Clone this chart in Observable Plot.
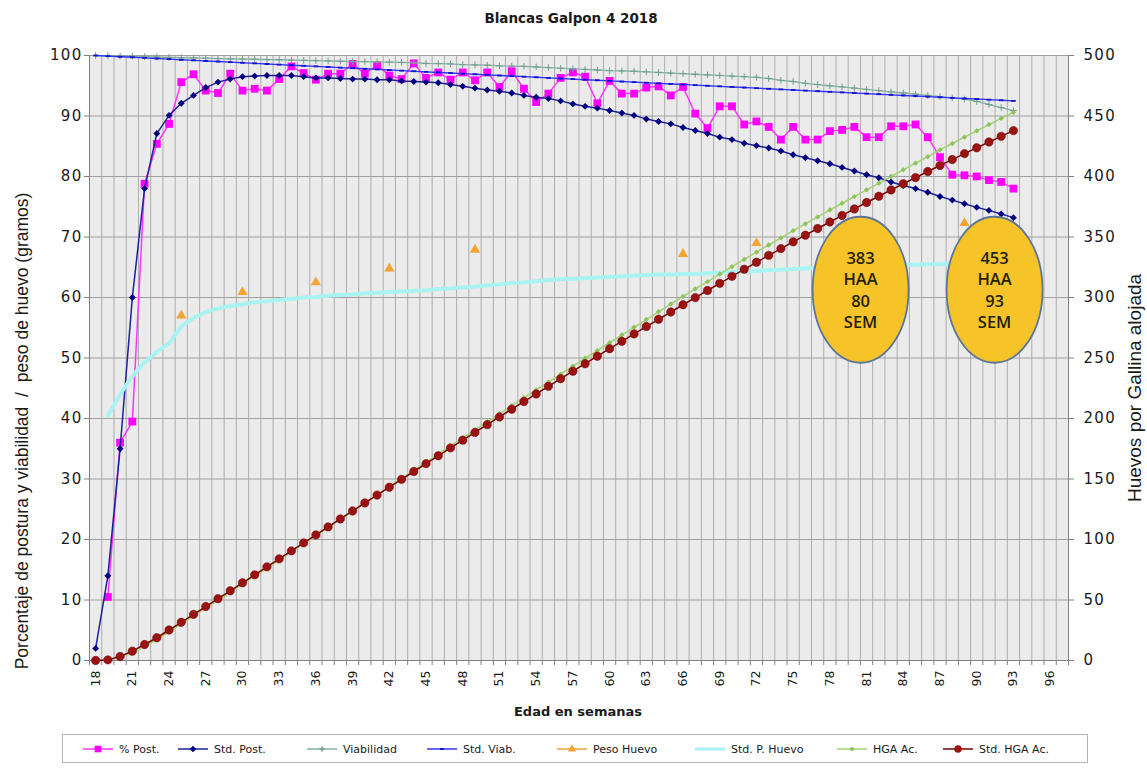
<!DOCTYPE html>
<html>
<head>
<meta charset="utf-8">
<script src="https://cdn.jsdelivr.net/npm/d3@7"></script>
<script src="https://cdn.jsdelivr.net/npm/@observablehq/plot@0.6"></script>
<style>
  body { margin: 0; background: #ffffff; }
  #wrap { position: relative; width: 1147px; height: 771px; overflow: hidden; }
  #chart { position: absolute; left: 0; top: 0; }
  #title { position: absolute; left: 0; top: 10px; width: 1142px; text-align: center;
           font-family: "DejaVu Sans", sans-serif; font-weight: bold; font-size: 13.5px; color: #1a1a1a; }
  #legend { position: absolute; left: 0; top: 720px; }
</style>
</head>
<body>
<div id="wrap">
  <div id="chart"></div>
  <div id="title">Blancas Galpon 4 2018</div>
  <svg id="legend" width="1147" height="51"></svg>
</div>
<script>
// ---------------- data ----------------
const weeks = [18,19,20,21,22,23,24,25,26,27,28,29,30,31,32,33,34,35,36,37,38,39,40,41,42,43,44,45,46,47,48,49,50,51,52,53,54,55,56,57,58,59,60,61,62,63,64,65,66,67,68,69,70,71,72,73,74,75,76,77,78,79,80,81,82,83,84,85,86,87,88,89,90,91,92,93];

// % Post. (left axis)
const pctPost = [null,10.5,36,39.5,78.8,85.4,88.7,95.6,96.9,94.2,93.8,97.0,94.2,94.5,94.2,96.1,98.2,97.1,96.0,97.0,97.0,98.6,97.0,98.4,96.7,96.1,98.7,96.3,97.2,96.0,97.2,95.9,97.2,94.8,97.4,94.5,92.3,93.7,96.3,97.2,96.5,92.1,95.8,93.7,93.7,94.7,94.9,93.4,94.8,90.4,88.0,91.6,91.6,88.6,89.1,88.2,86.1,88.2,86.1,86.1,87.5,87.7,88.2,86.5,86.5,88.3,88.3,88.6,86.5,83.2,80.3,80.2,80.0,79.4,79.1,78.0];

// Std. Post. (left axis)
const stdPost = [2,14,35,60,78,87.1,90.1,92.1,93.4,94.7,95.6,96.1,96.5,96.6,96.7,96.7,96.7,96.5,96.3,96.3,96.2,96.1,96.1,96.0,96.0,95.8,95.7,95.6,95.5,95.2,94.9,94.6,94.3,94.1,93.8,93.4,93.1,92.9,92.5,92.0,91.6,91.3,90.9,90.5,90.1,89.5,89.1,88.7,88.1,87.6,87.1,86.5,86.1,85.5,85.1,84.7,84.2,83.6,83.1,82.6,82.1,81.5,80.9,80.3,79.8,79.1,78.5,78.0,77.4,76.7,76.1,75.5,74.9,74.4,73.8,73.2];

// Viabilidad (left axis)
const viab = [100,99.95,99.9,99.85,99.8,99.75,99.7,99.65,99.6,99.55,99.5,99.45,99.4,99.38,99.33,99.3,99.25,99.2,99.15,99.1,99.05,99.0,99.0,98.95,98.9,98.85,98.8,98.7,98.65,98.6,98.5,98.45,98.4,98.3,98.25,98.2,98.1,98.0,97.9,97.8,97.7,97.6,97.5,97.45,97.4,97.3,97.2,97.1,97.0,96.9,96.8,96.7,96.6,96.5,96.4,96.2,95.9,95.7,95.4,95.2,95.0,94.8,94.6,94.4,94.2,94.0,93.8,93.6,93.4,93.2,93.0,92.8,92.4,91.9,91.4,90.9];

// Std. Viab. (left axis)
const stdViab = [100,99.9,99.8,99.7,99.6,99.5,99.4,99.3,99.2,99.1,99.0,98.9,98.8,98.7,98.6,98.5,98.4,98.3,98.2,98.1,98.0,97.9,97.8,97.7,97.6,97.5,97.4,97.3,97.2,97.1,97.0,96.9,96.8,96.7,96.6,96.5,96.4,96.3,96.2,96.1,96.0,95.9,95.8,95.7,95.6,95.5,95.4,95.3,95.2,95.1,95.0,94.9,94.8,94.7,94.6,94.5,94.4,94.3,94.2,94.1,94.0,93.9,93.8,93.7,93.6,93.5,93.4,93.3,93.2,93.1,93.0,92.9,92.8,92.7,92.6,92.5];

// Peso Huevo (left axis, grams) – sampled weeks only
const pesoWeeks = [25,30,36,42,49,66,72,89];
const pesoHuevo = [57.0,60.9,62.5,64.8,67.9,67.2,69.0,72.3];

// Std. P. Huevo (left axis, grams)
const stdPesoHuevo = [null,40.5,44.0,47.0,49.3,51.0,52.4,55.2,56.6,57.6,58.2,58.6,58.9,59.2,59.4,59.6,59.8,60.0,60.1,60.3,60.4,60.5,60.7,60.8,60.9,61.0,61.1,61.2,61.4,61.5,61.7,61.8,62.0,62.2,62.4,62.5,62.7,62.9,63.0,63.1,63.2,63.3,63.4,63.5,63.6,63.7,63.8,63.8,63.9,63.9,64.0,64.1,64.2,64.3,64.4,64.5,64.6,64.7,64.8,64.9,65.0,65.1,65.2,65.2,65.3,65.3,65.4,65.4,65.5,65.5,65.6,65.6,65.7,65.7,65.8,65.8];

// HGA Ac. (right axis, eggs per hen housed)
const hgaAc = [0,0.4,3.0,6.3,11.5,17.2,23.6,30.2,36.8,43.3,49.8,56.5,63.1,69.7,76.3,83.0,89.8,96.5,103.2,109.9,116.6,123.4,130.1,136.9,143.6,150.3,157.1,163.8,170.5,177.2,183.9,190.6,197.3,203.9,210.6,217.2,223.6,230.0,236.6,243.2,249.8,256.1,262.6,269.0,275.4,281.8,288.2,294.6,301.0,307.1,313.1,319.3,325.5,331.5,337.5,343.4,349.3,355.2,360.9,366.6,372.3,377.9,383.4,389.0,394.5,400.0,405.5,411.0,416.4,422.0,427.3,432.5,437.7,442.9,448.0,453.0];

// Std. HGA Ac. (right axis)
const stdHgaAc = [0,0.5,3.3,7.7,13.2,18.8,25.2,31.6,38.1,44.6,51.1,57.6,64.2,70.8,77.4,84.0,90.6,97.2,103.8,110.4,117.0,123.6,130.2,136.7,143.2,149.7,156.2,162.7,169.2,175.7,182.1,188.5,194.9,201.3,207.7,214.0,220.3,226.6,232.9,239.1,245.3,251.5,257.7,263.8,269.9,276.0,282.0,288.0,294.0,299.9,305.8,311.7,317.5,323.3,329.1,334.8,340.4,346.0,351.5,357.0,362.4,367.8,373.2,378.5,383.7,388.9,394.0,399.1,404.1,409.1,414.0,418.9,423.7,428.5,433.2,437.9];

// axis ticks
const xTickLabels = [18,21,24,27,30,33,36,39,42,45,48,51,54,57,60,63,66,69,72,75,78,81,84,87,90,93,96];
const leftTicks = [0,10,20,30,40,50,60,70,80,90,100];
const rightMax = 500;          // right axis 0..500 aligned with left 0..100
const xDomain = [17.5, 97.5];  // categories 18..97

// annotation bubbles
const bubbles = [
  {week: 80.55, value: 61.2, lines: ["383", "HAA", "80", "SEM"]},
  {week: 91.5,  value: 61.2, lines: ["453", "HAA", "93", "SEM"]}
];

// ---------------- build ----------------
const ratio = rightMax / 100;
const rows = weeks.map((w, i) => ({
  week: w, post: pctPost[i], stdPost: stdPost[i], viab: viab[i], stdViab: stdViab[i],
  stdPeso: stdPesoHuevo[i], hga: hgaAc[i], stdHga: stdHgaAc[i]
}));
const pesoRows = pesoWeeks.map((w, i) => ({week: w, peso: pesoHuevo[i]}));
const bounds = d3.range(xDomain[0], xDomain[1] + 0.01, 1);

const dashSymbol = {
  draw(ctx, size) {
    const w = Math.sqrt(size) * 1.1, h = 0.9;
    ctx.moveTo(-w / 2, -h); ctx.lineTo(w / 2, -h); ctx.lineTo(w / 2, h); ctx.lineTo(-w / 2, h); ctx.closePath();
  }
};

const C = {
  post: "#ff00ff", postLine: "#ff33ff",
  stdPost: "#000080", stdPostLine: "#1f1f99",
  viab: "#6f9f8e", viabLine: "#86b0a2",
  stdViab: "#1010d0", stdViabLine: "#3535f5",
  peso: "#f4a433",
  stdPeso: "#aaf3f3",
  hga: "#8cc45a", hgaLine: "#a3d070",
  stdHga: "#9b1212", stdHgaLine: "#7a0000"
};

const plot = Plot.plot({
  width: 1147, height: 720,
  marginTop: 55, marginBottom: 60, marginLeft: 89, marginRight: 79,
  style: {fontFamily: "DejaVu Sans, sans-serif", background: "transparent", overflow: "visible"},
  x: {domain: xDomain, axis: null},
  y: {domain: [0, 100], axis: null},
  marks: [
    Plot.frame({fill: "#ebebeb", stroke: null}),
    Plot.ruleX(bounds, {stroke: "#adadad", strokeWidth: 1}),
    Plot.ruleY(leftTicks, {stroke: "#a0a0a0", strokeWidth: 1}),
    Plot.ruleX([xDomain[0], xDomain[1]], {stroke: "#808080"}),
    Plot.ruleY([0], {stroke: "#808080"}),
    Plot.axisY(leftTicks, {anchor: "left", tickSize: 5, tickPadding: 2, fontSize: 15, fill: "#1a1a1a", stroke: "#808080", label: null}),
    Plot.axisY(leftTicks, {anchor: "right", tickSize: 5, tickPadding: 10, fontSize: 15, fill: "#1a1a1a", stroke: "#808080", label: null, tickFormat: d => d * ratio}),
    Plot.axisX(bounds, {anchor: "bottom", tickSize: 5, tickFormat: () => "", stroke: "#808080", label: null}),
    Plot.axisX(xTickLabels, {anchor: "bottom", tickSize: 0, tickPadding: 10, tickRotate: -90, fontSize: 12.5, fill: "#1a1a1a", label: null}),

    Plot.line(rows, {x: "week", y: "post", stroke: C.postLine, strokeWidth: 1.5}),
    Plot.dot(rows, {x: "week", y: "post", symbol: "square", r: 4.4, fill: C.post}),
    Plot.line(rows, {x: "week", y: "stdPost", stroke: C.stdPostLine, strokeWidth: 1.5}),
    Plot.dot(rows, {x: "week", y: "stdPost", symbol: "diamond2", r: 3.1, fill: C.stdPost}),
    Plot.line(rows, {x: "week", y: "viab", stroke: C.viabLine, strokeWidth: 1.3}),
    Plot.dot(rows, {x: "week", y: "viab", symbol: "plus", r: 2.3, stroke: C.viab, strokeWidth: 1}),
    Plot.line(rows, {x: "week", y: "stdViab", stroke: C.stdViabLine, strokeWidth: 1.4}),
    Plot.dot(rows, {x: "week", y: "stdViab", symbol: dashSymbol, r: 2.4, fill: C.stdViab}),
    Plot.dot(pesoRows, {x: "week", y: "peso", symbol: "triangle", r: 3.8, fill: C.peso}),
    Plot.line(rows, {x: "week", y: "stdPeso", stroke: C.stdPeso, strokeWidth: 4}),
    Plot.line(rows, {x: "week", y: d => d.hga / ratio, stroke: C.hgaLine, strokeWidth: 1.5}),
    Plot.dot(rows, {x: "week", y: d => d.hga / ratio, symbol: "diamond2", r: 2.4, fill: C.hga}),
    Plot.line(rows, {x: "week", y: d => d.stdHga / ratio, stroke: C.stdHgaLine, strokeWidth: 1.5}),
    Plot.dot(rows, {x: "week", y: d => d.stdHga / ratio, r: 4.2, fill: C.stdHga, stroke: "#6e0000", strokeWidth: 0.5})
  ]
});
document.getElementById("chart").appendChild(plot);

// widen y tick labels slightly like the reference
d3.select(plot).selectAll('g[aria-label="y-axis tick label"] text').style("letter-spacing", "1.3px");

// ---------------- annotations & axis titles ----------------
const svg = d3.select(plot);
const sx = plot.scale("x"), sy = plot.scale("y");
const ann = svg.append("g");
bubbles.forEach(b => {
  const cx = sx.apply(b.week), cy = sy.apply(b.value);
  ann.append("ellipse").attr("cx", cx).attr("cy", cy).attr("rx", 48).attr("ry", 73)
    .attr("fill", "#f6c428").attr("stroke", "#5b7597").attr("stroke-width", 1.8);
  b.lines.forEach((t, i) => ann.append("text")
    .attr("x", cx).attr("y", cy + (i - 1.5) * 21.5)
    .attr("text-anchor", "middle").attr("dominant-baseline", "central")
    .attr("font-family", "Open Sans, sans-serif").attr("font-weight", 600).attr("font-size", 16.5)
    .attr("fill", "#241f0c").text(t));
});

svg.append("text").attr("transform", "translate(22,431) rotate(-90)")
  .attr("text-anchor", "middle").attr("dominant-baseline", "central")
  .attr("font-family", "Liberation Sans, sans-serif").attr("font-size", 17.5).attr("fill", "#1a1a1a")
  .style("white-space", "pre")
  .text("Porcentaje de postura y viabilidad  /  peso de huevo (gramos)");
svg.append("text").attr("transform", "translate(1134,388) rotate(-90)")
  .attr("text-anchor", "middle").attr("dominant-baseline", "central")
  .attr("font-family", "Liberation Sans, sans-serif").attr("font-size", 19).attr("fill", "#1a1a1a")
  .text("Huevos por Gallina alojada");
svg.append("text").attr("x", 578).attr("y", 711)
  .attr("text-anchor", "middle").attr("dominant-baseline", "central")
  .attr("font-family", "DejaVu Sans, sans-serif").attr("font-weight", "bold").attr("font-size", 13).attr("fill", "#1a1a1a")
  .text("Edad en semanas");

// ---------------- legend ----------------
const legendItems = [
  {label: "% Post.",       line: C.postLine,    sym: d3.symbolSquare,   size: 44, fill: C.post},
  {label: "Std. Post.",    line: C.stdPostLine, sym: d3.symbolDiamond2 || d3.symbolDiamond, size: 28, fill: C.stdPost},
  {label: "Viabilidad",    line: C.viabLine,    sym: d3.symbolCross,    size: 14, fill: C.viab},
  {label: "Std. Viab.",    line: C.stdViabLine, sym: dashSymbol,        size: 14, fill: C.stdViab},
  {label: "Peso Huevo",    line: C.peso,        sym: d3.symbolTriangle, size: 30, fill: C.peso},
  {label: "Std. P. Huevo", line: C.stdPeso,     sym: null,              size: 0,  fill: null, width: 3},
  {label: "HGA Ac.",       line: C.hgaLine,     sym: d3.symbolDiamond2 || d3.symbolDiamond, size: 16, fill: C.hga},
  {label: "Std. HGA Ac.",  line: C.stdHgaLine,  sym: d3.symbolCircle,   size: 44, fill: C.stdHga}
];
const legendX = [83, 178, 307, 427, 557, 695, 837, 943];
const lg = d3.select("#legend");
lg.append("rect").attr("x", 62.5).attr("y", 14.5).attr("width", 1025).attr("height", 28)
  .attr("fill", "#ffffff").attr("stroke", "#b5b5b5");
legendItems.forEach((it, i) => {
  const x = legendX[i], y = 29;
  lg.append("line").attr("x1", x).attr("x2", x + 30).attr("y1", y).attr("y2", y)
    .attr("stroke", it.line).attr("stroke-width", it.width || 1.5);
  if (it.sym) lg.append("path").attr("transform", `translate(${x + 15},${y})`)
    .attr("d", d3.symbol(it.sym, it.size)()).attr("fill", it.fill);
  lg.append("text").attr("x", x + 36).attr("y", y).attr("dominant-baseline", "central")
    .attr("font-family", "DejaVu Sans, sans-serif").attr("font-size", 11).attr("fill", "#1a1a1a")
    .text(it.label);
});
</script>
</body>
</html>
